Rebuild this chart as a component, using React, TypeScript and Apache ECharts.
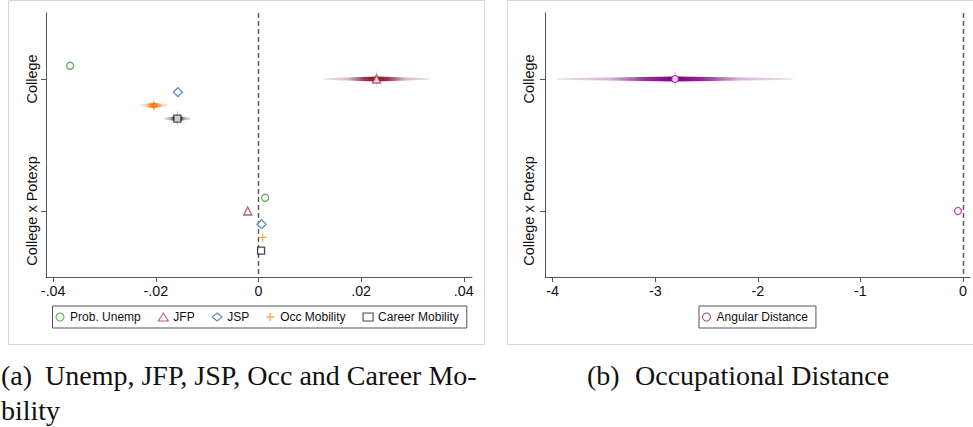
import { useEffect, useRef } from 'react';
import * as echarts from 'echarts';

// Rows of the coefficient plot (top to bottom) and their positions on the value axis
const rowLabels = ['College', 'College x Potexp'];
const rowPos = [1, 2];

// Panel (a): point estimates per row
const probUnemp = [-0.0367, 0.0013];
const jfp = [0.023, -0.0021];
const jsp = [-0.0157, 0.0006];
const occMobility = [-0.0204, 0.0008];
const careerMobility = [-0.0158, 0.0005];

// Panel (a): confidence intervals [low, high] per row (null = hidden under the marker)
const probUnempCI: (number[] | null)[] = [null, null];
const jfpCI: (number[] | null)[] = [[0.0127, 0.0333], null];
const jspCI: (number[] | null)[] = [null, null];
const occMobilityCI: (number[] | null)[] = [[-0.0232, -0.0175], null];
const careerMobilityCI: (number[] | null)[] = [[-0.0183, -0.0133], null];

// Panel (b)
const angularDistance = [-2.807, -0.049];
const angularDistanceCI: (number[] | null)[] = [[-3.96, -1.66], null];

// Tick values and labels
const leftTicks = [-0.04, -0.02, 0, 0.02, 0.04];
const leftTickLabels = ['-.04', '-.02', '0', '.02', '.04'];
const rightTicks = [-4, -3, -2, -1, 0];
const rightTickLabels = ['-4', '-3', '-2', '-1', '0'];

// Vertical dodge of each series within a row
const rowShift = [-0.1, 0, 0.1, 0.2, 0.3];

const SANS = '"Liberation Sans", Arial, Helvetica, sans-serif';
const SERIF = '"Liberation Serif", "Times New Roman", serif';
const AXIS = '#555';
const INK = '#111';

const PLUS = 'path://M3.3,0H4.7V3.3H8V4.7H4.7V8H3.3V4.7H0V3.3H3.3Z';

type Spec = {
  name: string;
  values: number[];
  ci: (number[] | null)[];
  shift: number;
  symbol: string;
  size: number;
  color: string;
  rgb: string;
  filled?: boolean;
};

const leftSpecs: Spec[] = [
  { name: 'Prob. Unemp', values: probUnemp, ci: probUnempCI, shift: rowShift[0], symbol: 'circle', size: 7, color: '#2e9e2e', rgb: '46,158,46' },
  { name: 'JFP', values: jfp, ci: jfpCI, shift: rowShift[1], symbol: 'triangle', size: 8, color: '#a83a4c', rgb: '135,22,42' },
  { name: 'JSP', values: jsp, ci: jspCI, shift: rowShift[2], symbol: 'diamond', size: 9, color: '#3d6fa8', rgb: '61,111,168' },
  { name: 'Occ Mobility', values: occMobility, ci: occMobilityCI, shift: rowShift[3], symbol: PLUS, size: 8, color: '#fb9430', rgb: '255,110,0', filled: true },
  { name: 'Career Mobility', values: careerMobility, ci: careerMobilityCI, shift: rowShift[4], symbol: 'rect', size: 7, color: '#1a1a1a', rgb: '0,0,0' },
];

const rightSpecs: Spec[] = [
  { name: 'Angular Distance', values: angularDistance, ci: angularDistanceCI, shift: 0, symbol: 'circle', size: 7, color: '#9a1a9a', rgb: '128,0,128' },
];

// Spindle-shaped, fading confidence band drawn through the axes' scales
function makeCIRenderer(rgb: string) {
  return (_params: any, api: any) => {
    const yv = api.value(3);
    const lo = api.coord([api.value(0), yv]);
    const hi = api.coord([api.value(1), yv]);
    const est = api.coord([api.value(2), yv]);
    const y = est[1];
    const w = Math.max(hi[0] - lo[0], 1);
    const t = Math.min(Math.max((est[0] - lo[0]) / w, 0.05), 0.95);
    const c = (a: number) => `rgba(${rgb},${a})`;
    const grad = new echarts.graphic.LinearGradient(0, 0, 1, 0, [
      { offset: 0, color: c(0.12) },
      { offset: t * 0.45, color: c(0.3) },
      { offset: t * 0.78, color: c(0.85) },
      { offset: t, color: c(1) },
      { offset: t + (1 - t) * 0.22, color: c(0.85) },
      { offset: t + (1 - t) * 0.55, color: c(0.3) },
      { offset: 1, color: c(0.12) },
    ]);
    return {
      type: 'group',
      children: [
        {
          type: 'polygon',
          shape: {
            points: [
              [lo[0], y - 0.8],
              [est[0], y - 2.6],
              [hi[0], y - 0.8],
              [hi[0], y + 0.8],
              [est[0], y + 2.6],
              [lo[0], y + 0.8],
            ],
          },
          style: { fill: grad },
        },
        {
          type: 'polygon',
          shape: {
            points: [
              [est[0], y - 9],
              [est[0] + 1.6, y],
              [est[0], y + 9],
              [est[0] - 1.6, y],
            ],
          },
          style: { fill: c(0.2) },
        },
      ],
    };
  };
}

function buildSeries(specs: Spec[], axisIndex: number) {
  const out: any[] = [];
  specs.forEach((s, k) => {
    const ciData = s.values
      .map((v, i) => (s.ci[i] ? [s.ci[i]![0], s.ci[i]![1], v, rowPos[i] + s.shift] : null))
      .filter(Boolean);
    if (ciData.length) {
      out.push({
        type: 'custom',
        name: s.name + ' CI',
        xAxisIndex: axisIndex,
        yAxisIndex: axisIndex,
        renderItem: makeCIRenderer(s.rgb),
        encode: { x: [0, 1, 2], y: 3 },
        data: ciData,
        z: 2,
        silent: true,
      });
    }
    const scatter: any = {
      type: 'scatter',
      name: s.name,
      xAxisIndex: axisIndex,
      yAxisIndex: axisIndex,
      symbol: s.symbol,
      symbolSize: s.size,
      symbolKeepAspect: true,
      itemStyle: s.filled
        ? { color: s.color, borderWidth: 0 }
        : { color: '#fff', borderColor: s.color, borderWidth: 1.3 },
      data: s.values.map((v, i) => [v, rowPos[i] + s.shift]),
      z: 3,
    };
    if (k === 0) {
      scatter.markLine = {
        silent: true,
        symbol: 'none',
        label: { show: false },
        lineStyle: { type: [5, 3], color: '#555', width: 1.4 },
        data: [{ xAxis: 0 }],
        z: 1,
      };
    }
    out.push(scatter);
  });
  return out;
}

function pick(ticks: number[], labels: string[], v: number) {
  const i = ticks.findIndex((t) => Math.abs(t - v) < 1e-9);
  return i >= 0 ? labels[i] : '';
}

function xAxisFor(gridIndex: number, min: number, max: number, ticks: number[], labels: string[]) {
  return {
    type: 'value',
    gridIndex,
    min,
    max,
    splitLine: { show: false },
    axisLine: { show: true, onZero: false, lineStyle: { color: AXIS, width: 1 } },
    axisTick: { show: true, length: 5, customValues: ticks, lineStyle: { color: AXIS } },
    axisLabel: {
      customValues: ticks,
      formatter: (v: number) => pick(ticks, labels, v),
      fontFamily: SANS,
      fontSize: 14.3,
      color: INK,
      margin: 7,
    },
  };
}

function yAxisFor(gridIndex: number, margin: number) {
  return {
    type: 'value',
    gridIndex,
    min: 0.5,
    max: 2.5,
    inverse: true,
    splitLine: { show: false },
    axisLine: { show: true, onZero: false, lineStyle: { color: AXIS, width: 1 } },
    axisTick: { show: true, length: 5, customValues: rowPos, lineStyle: { color: AXIS } },
    axisLabel: {
      customValues: rowPos,
      rotate: 90,
      formatter: (v: number) => pick(rowPos, rowLabels, v),
      fontFamily: SANS,
      fontSize: 14.5,
      color: INK,
      margin,
    },
  };
}

const legendBase = {
  orient: 'horizontal',
  top: 306,
  itemWidth: 10,
  itemHeight: 8,
  itemGap: 17,
  padding: [5, 8, 5, 3],
  borderColor: '#555',
  borderWidth: 1,
  borderRadius: 0,
  selectedMode: false,
  itemStyle: { borderWidth: 1.1 },
  textStyle: { fontFamily: SANS, fontSize: 12, color: INK },
};

export default function App() {
  const ref = useRef<HTMLDivElement>(null);

  useEffect(() => {
    if (!ref.current) return;
    const chart = echarts.init(ref.current, undefined, { renderer: 'svg' });
    chart.setOption({
      animation: false,
      backgroundColor: '#fff',
      grid: [
        { left: 46, top: 13, width: 426, height: 264 },
        { left: 545, top: 13, width: 425, height: 264 },
      ],
      xAxis: [
        xAxisFor(0, -0.0414, 0.0416, leftTicks, leftTickLabels),
        xAxisFor(1, -4.075, 0.068, rightTicks, rightTickLabels),
      ],
      yAxis: [yAxisFor(0, 7), yAxisFor(1, 9)],
      legend: [
        { ...legendBase, left: 52.5, data: leftSpecs.map((s) => s.name) },
        { ...legendBase, left: 699, data: rightSpecs.map((s) => s.name) },
      ],
      series: [...buildSeries(leftSpecs, 0), ...buildSeries(rightSpecs, 1)],
      graphic: [
        {
          type: 'rect',
          silent: true,
          z: -10,
          shape: { x: 8.5, y: 0.5, width: 476, height: 344 },
          style: { fill: 'none', stroke: '#d6d6d6', lineWidth: 1 },
        },
        {
          type: 'rect',
          silent: true,
          z: -10,
          shape: { x: 507.5, y: 0.5, width: 480, height: 344 },
          style: { fill: 'none', stroke: '#d6d6d6', lineWidth: 1 },
        },
        {
          type: 'text',
          x: 1,
          y: 375.5,
          style: { text: '(a)', fontFamily: SERIF, fontSize: 28, fill: INK, verticalAlign: 'middle' },
        },
        {
          type: 'text',
          x: 45,
          y: 375.5,
          style: { text: 'Unemp, JFP, JSP, Occ and Career Mo-', fontFamily: SERIF, fontSize: 28, fill: INK, verticalAlign: 'middle' },
        },
        {
          type: 'text',
          x: 1,
          y: 410.5,
          style: { text: 'bility', fontFamily: SERIF, fontSize: 28, fill: INK, verticalAlign: 'middle' },
        },
        {
          type: 'text',
          x: 587,
          y: 375.5,
          style: { text: '(b)', fontFamily: SERIF, fontSize: 28, fill: INK, verticalAlign: 'middle' },
        },
        {
          type: 'text',
          x: 635,
          y: 375.5,
          style: { text: 'Occupational Distance', fontFamily: SERIF, fontSize: 28, fill: INK, verticalAlign: 'middle' },
        },
      ],
    });
    return () => chart.dispose();
  }, []);

  return (
    <div
      ref={ref}
      style={{ position: 'fixed', left: 0, top: 0, width: 973, height: 427, background: '#fff' }}
    />
  );
}
